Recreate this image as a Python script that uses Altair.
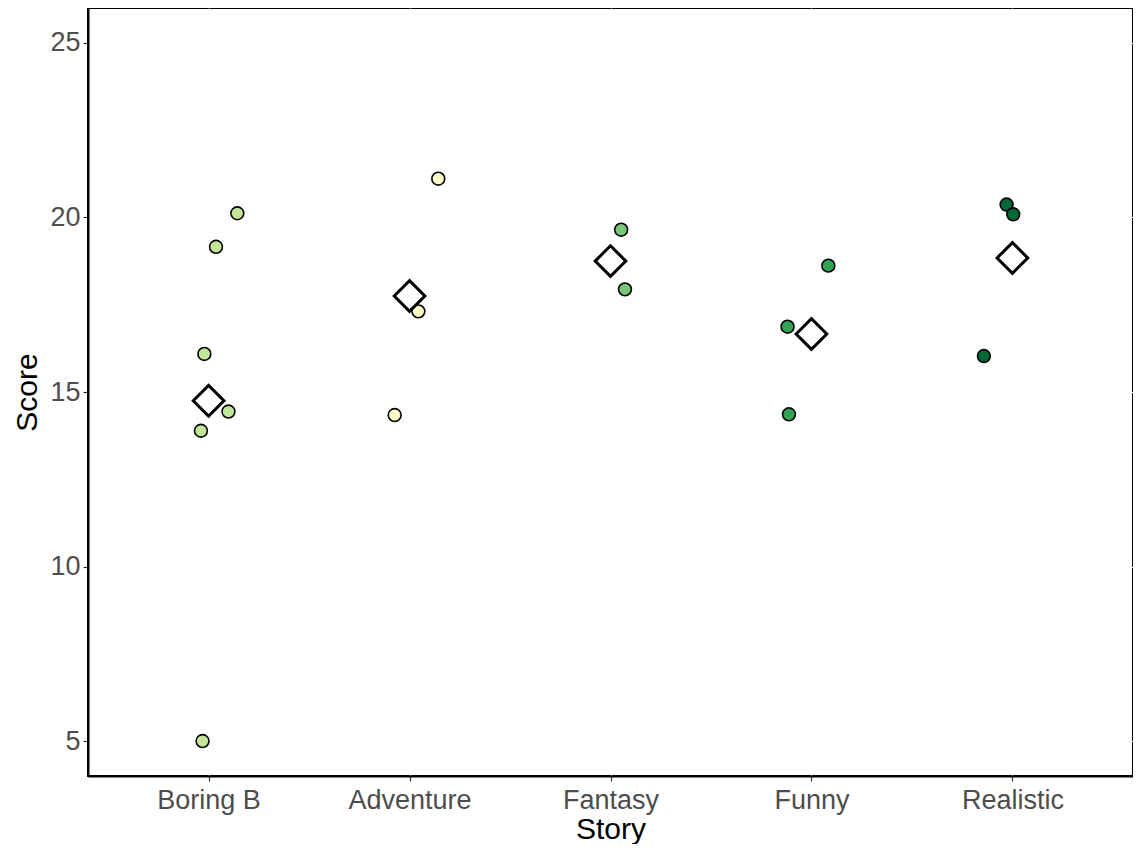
import altair as alt
import pandas as pd

# Categories (display order) and colour-scale order
stories = ["Boring B", "Adventure", "Fantasy", "Funny", "Realistic"]
color_order = ["Adventure", "Boring B", "Fantasy", "Funny", "Realistic"]
colors = ["#ffffcc", "#c2e699", "#78c679", "#31a354", "#006837"]

# Individual (jittered) observations
pt_story = (["Boring B"] * 6 + ["Adventure"] * 3 + ["Fantasy"] * 2
            + ["Funny"] * 3 + ["Realistic"] * 3)
pt_score = [20.12, 19.16, 16.09, 14.44, 13.89, 5.00,
            21.11, 17.31, 14.34,
            19.65, 17.94,
            18.62, 16.87, 14.36,
            20.37, 20.09, 16.03]
pt_jitter = [0.143, 0.037, -0.021, 0.099, -0.038, -0.030,
             0.143, 0.044, -0.074,
             0.053, 0.072,
             0.084, -0.119, -0.112,
             -0.029, 0.004, -0.142]

# Group means (diamonds)
mean_score = [14.75, 17.75, 18.75, 16.66, 18.84]

pts = pd.DataFrame({"story": pt_story, "score": pt_score, "jitter": pt_jitter})
pts["x"] = [stories.index(s) + 1 + j for s, j in zip(pts["story"], pts["jitter"])]
means = pd.DataFrame({"story": stories, "score": mean_score,
                      "x": [i + 1 for i in range(len(stories))]})

label_expr = "[" + ",".join("'%s'" % s for s in stories) + "][datum.value - 1]"

x_enc = alt.X("x:Q",
              scale=alt.Scale(domain=[0.4, 5.6], nice=False, zero=False),
              axis=alt.Axis(values=[1, 2, 3, 4, 5], labelExpr=label_expr,
                            title="Story", grid=True,
                            titleY=62, titleBaseline="alphabetic"))
y_enc = alt.Y("score:Q",
              scale=alt.Scale(domain=[4, 26], nice=False, zero=False),
              axis=alt.Axis(values=[5, 10, 15, 20, 25], title="Score", grid=True))

points = alt.Chart(pts).mark_point(
    shape="circle", filled=True, stroke="black", strokeWidth=1.6,
    size=165, opacity=1
).encode(
    x=x_enc, y=y_enc,
    fill=alt.Fill("story:N", scale=alt.Scale(domain=color_order, range=colors),
                  legend=None),
)

diamonds = alt.Chart(means).mark_point(
    shape="diamond", filled=True, fill="white", stroke="black",
    strokeWidth=3, size=940, opacity=1
).encode(x=x_enc, y=y_enc)

chart = alt.layer(points, diamonds).properties(
    width=1045, height=768,
    autosize=alt.AutoSizeParams(type="none"),
    padding={"left": 80, "top": 0, "right": 0, "bottom": 68},
).configure_view(
    stroke="black", strokeWidth=2, fill="white"
).configure_axis(
    domainColor="black", domainWidth=2,
    tickColor="#333333", tickSize=5, tickWidth=1.2,
    gridColor="white", gridWidth=1, gridOpacity=1,
    labelFont="Liberation Sans", labelFontSize=27, labelColor="#4d4d4d",
    titleFont="Liberation Sans", titleFontSize=30, titleColor="black",
    titleFontWeight="normal",
).configure_axisX(
    labelPadding=6,
).configure_axisY(
    labelPadding=3, titlePadding=7,
)

chart.save("out.html", embed_options={"renderer": "svg", "actions": False})
